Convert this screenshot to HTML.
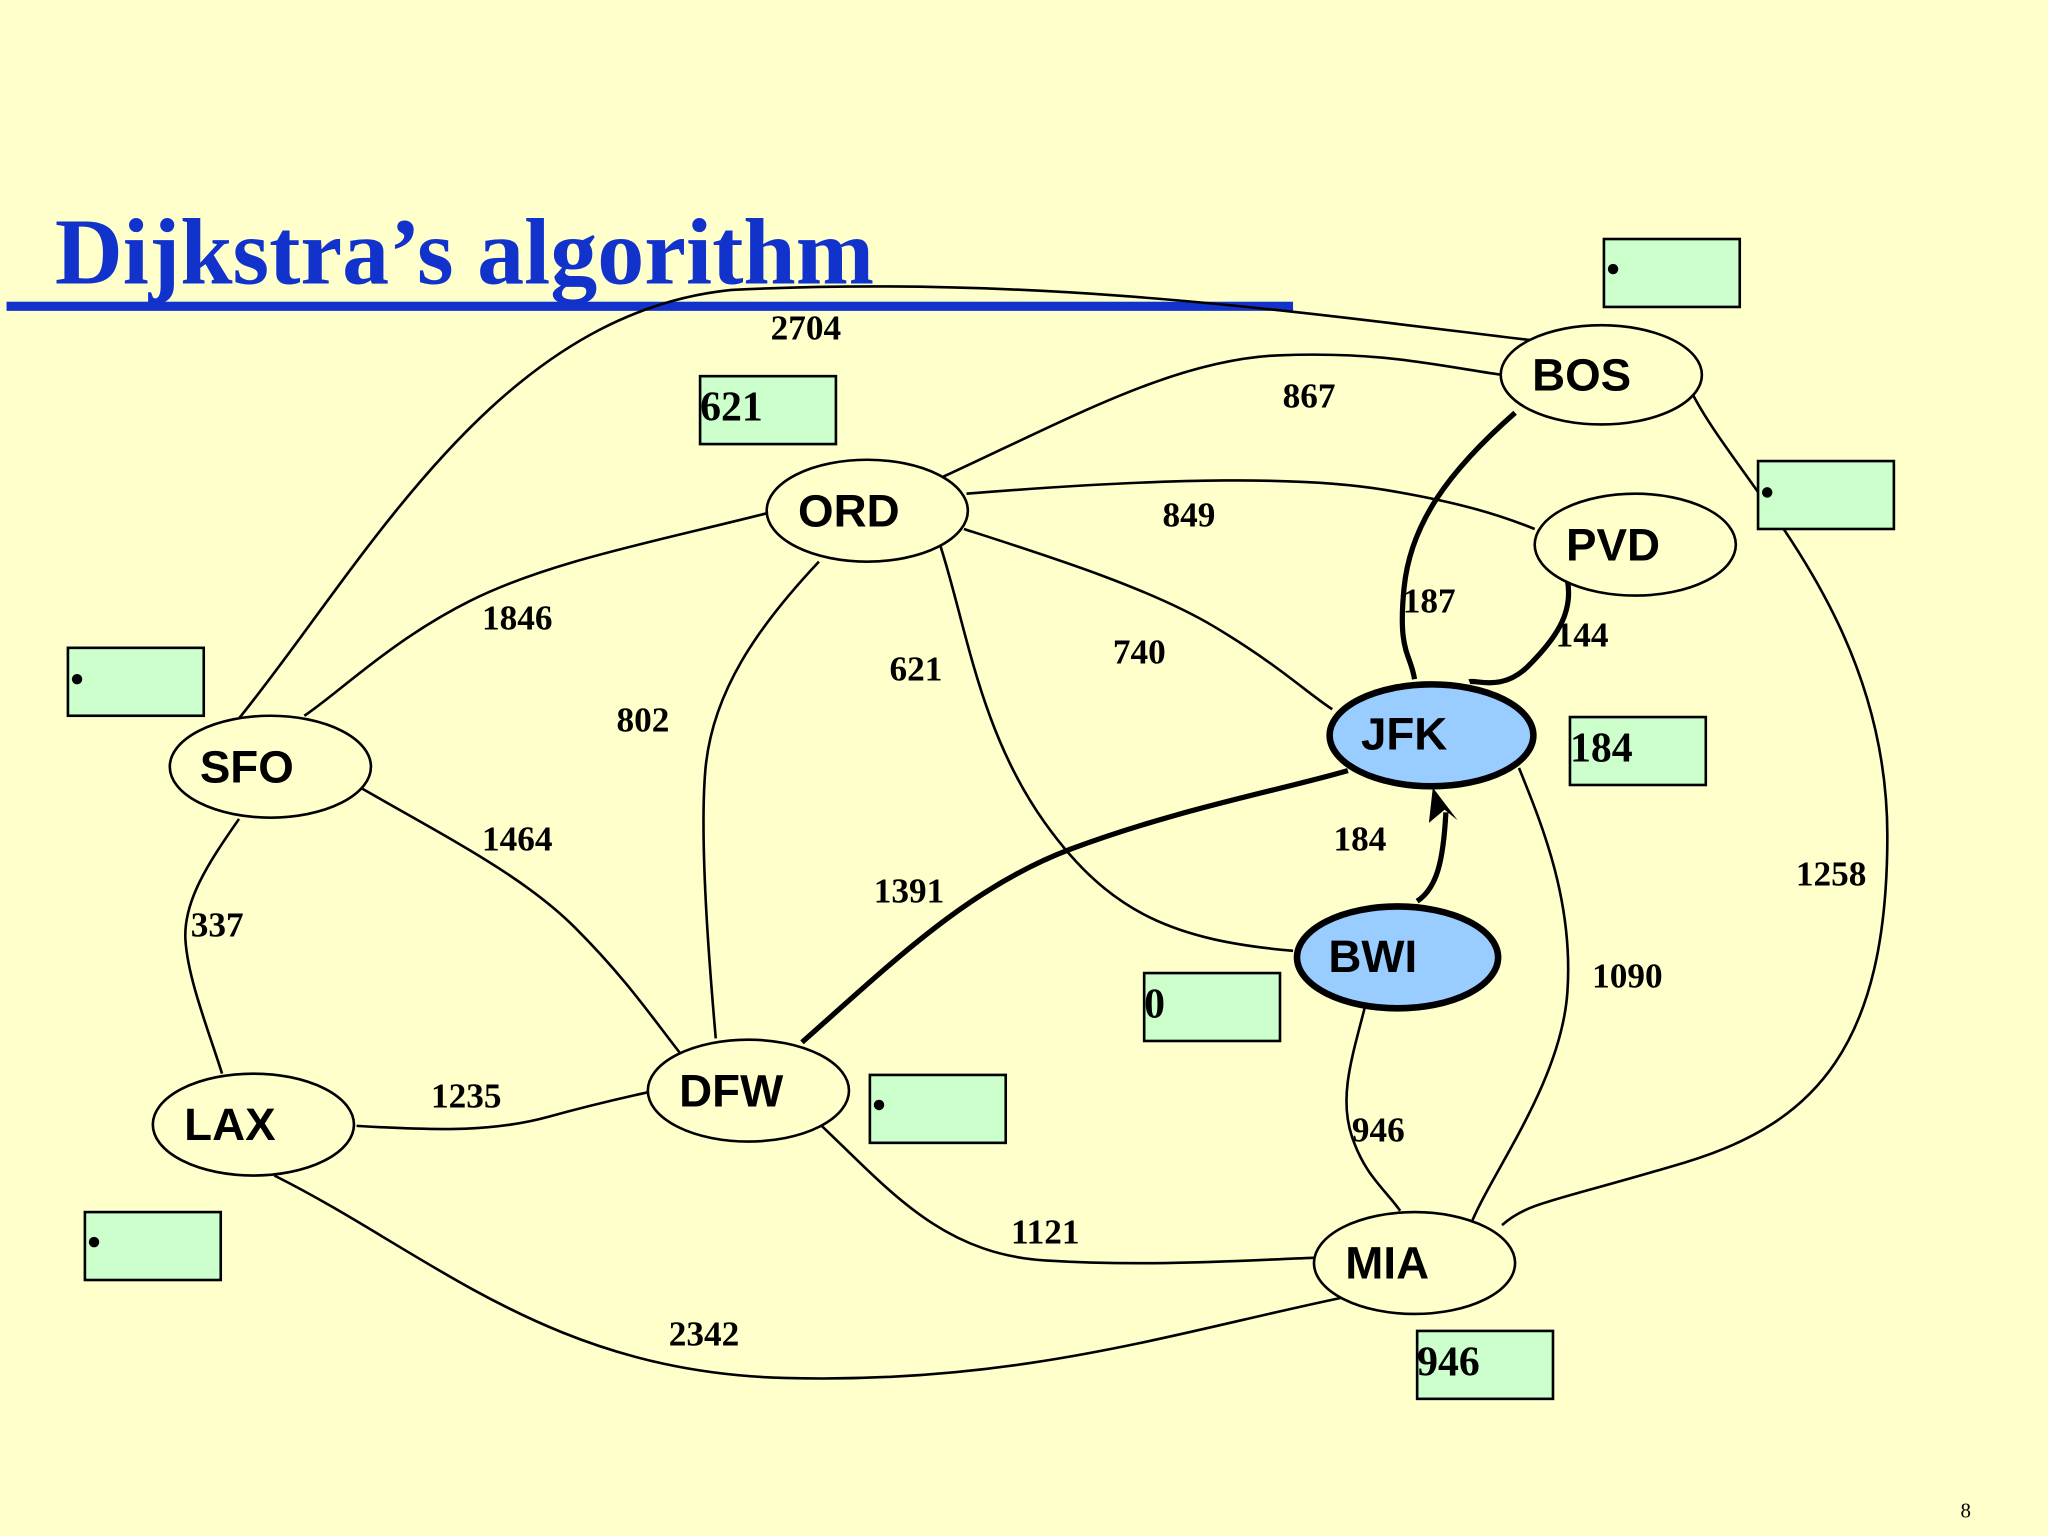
<!DOCTYPE html>
<html><head><meta charset="utf-8"><style>
html,body{margin:0;padding:0;background:#FFFFCC;}
svg{display:block;}
.n{font-family:"Liberation Sans",sans-serif;font-weight:bold;font-size:35px;fill:#000;}
.l{font-family:"Liberation Serif",serif;font-weight:bold;font-size:27px;fill:#000;}
.b{font-family:"Liberation Serif",serif;font-weight:bold;font-size:32px;fill:#000;}
</style></head><body>
<svg width="2048" height="1536" viewBox="0 0 1568 1176" xmlns="http://www.w3.org/2000/svg">
<rect width="1568" height="1176" fill="#FFFFCC"/>
<text x="42" y="217" font-family="Liberation Serif,serif" font-weight="bold" font-size="72" fill="#1133CC">Dijkstra’s algorithm</text>
<rect x="5" y="231" width="985" height="7" fill="#1133CC"/>
<g fill="none" stroke="#000" stroke-width="2">
<path d="M183 550 C280 430,380 240,560 222 C800 210,1000 240,1185 262"/>
<path d="M720 366 C820 320,900 275,980 272 S1100 280,1150 287"/>
<path d="M740 378 C900 365,1000 365,1060 375 S1150 395,1175 405"/>
<path d="M738 405 C800 425,880 450,930 480 S1000 530,1020 543"/>
<path d="M720 418 C740 480,750 560,800 630 S900 720,990 728"/>
<path d="M627 430 C580 480,545 530,540 590 S545 760,548 795"/>
<path d="M587 393 C500 415,420 430,360 460 S260 530,233 548"/>
<path d="M276 603 C340 640,400 670,440 710 S500 780,522 808"/>
<path d="M183 627 C160 660,140 690,142 720 S160 790,170 822"/>
<path d="M273 862 C340 866,380 866,420 855 S480 840,497 836"/>
<path d="M210 900 C330 960,420 1050,600 1055 S900 1020,1030 993"/>
<path d="M627 860 C680 910,720 960,800 965 S950 965,1006 963"/>
<path d="M1045 771 C1035 810,1025 840,1035 870 S1060 910,1072 927"/>
<path d="M1163 588 C1180 630,1205 690,1200 760 S1140 900,1125 940"/>
<path d="M1295 300 C1330 370,1445 470,1445 640 C1445 800,1390 860,1290 890 S1170 920,1150 938"/>
</g>
<g fill="none" stroke="#000" stroke-width="4">
<path d="M614 798 C680 740,740 680,820 650 S980 605,1032 590"/>
<path d="M1160 316 C1110 360,1080 400,1075 450 S1080 500,1083 520"/>
<path d="M1200 444 C1205 470,1190 490,1170 510 S1130 520,1125 522"/>
<path d="M1085 690 C1100 680,1105 660,1107 622"/>
</g>
<path d="M1097 603 L1094 630 L1106 620 L1116 628 Z" fill="#000"/>
<g fill="#FFFFCC" stroke="#000" stroke-width="2">
<ellipse cx="1226" cy="287" rx="77" ry="38"/>
<ellipse cx="664" cy="391" rx="77" ry="39"/>
<ellipse cx="1252" cy="417" rx="77" ry="39"/>
<ellipse cx="207" cy="587" rx="77" ry="39"/>
<ellipse cx="194" cy="861" rx="77" ry="39"/>
<ellipse cx="573" cy="835" rx="77" ry="39"/>
<ellipse cx="1083" cy="967" rx="77" ry="39"/>
</g>
<g fill="#99CCFF" stroke="#000" stroke-width="5">
<ellipse cx="1096" cy="563" rx="78" ry="39"/>
<ellipse cx="1070" cy="733" rx="77" ry="39"/>
</g>
<text class="n" x="1173" y="299">BOS</text>
<text class="n" x="611" y="403">ORD</text>
<text class="n" x="1199" y="429">PVD</text>
<text class="n" x="1042" y="574">JFK</text>
<text class="n" x="153" y="599">SFO</text>
<text class="n" x="1017" y="744">BWI</text>
<text class="n" x="141" y="873">LAX</text>
<text class="n" x="520" y="847">DFW</text>
<text class="n" x="1030" y="979">MIA</text>
<g fill="#CCFFCC" stroke="#000" stroke-width="2">
<rect x="1228" y="183" width="104" height="52"/>
<rect x="536" y="288" width="104" height="52"/>
<rect x="1346" y="353" width="104" height="52"/>
<rect x="52" y="496" width="104" height="52"/>
<rect x="1202" y="549" width="104" height="52"/>
<rect x="876" y="745" width="104" height="52"/>
<rect x="666" y="823" width="104" height="52"/>
<rect x="65" y="928" width="104" height="52"/>
<rect x="1085" y="1019" width="104" height="52"/>
</g>
<g fill="#000">
<circle cx="1235" cy="206" r="4"/>
<circle cx="1353" cy="377" r="4"/>
<circle cx="59" cy="520" r="4"/>
<circle cx="673" cy="846" r="4"/>
<circle cx="72" cy="951" r="4"/>
</g>
<text class="b" x="536" y="322">621</text>
<text class="b" x="1202" y="583">184</text>
<text class="b" x="876" y="779">0</text>
<text class="b" x="1085" y="1053">946</text>
<text class="l" x="590" y="260">2704</text>
<text class="l" x="982" y="312">867</text>
<text class="l" x="890" y="403">849</text>
<text class="l" x="852" y="508">740</text>
<text class="l" x="681" y="521">621</text>
<text class="l" x="472" y="560">802</text>
<text class="l" x="369" y="482">1846</text>
<text class="l" x="369" y="651">1464</text>
<text class="l" x="146" y="717">337</text>
<text class="l" x="330" y="848">1235</text>
<text class="l" x="512" y="1030">2342</text>
<text class="l" x="774" y="952">1121</text>
<text class="l" x="669" y="691">1391</text>
<text class="l" x="1035" y="874">946</text>
<text class="l" x="1219" y="756">1090</text>
<text class="l" x="1375" y="678">1258</text>
<text class="l" x="1074" y="469">187</text>
<text class="l" x="1191" y="495">144</text>
<text class="l" x="1021" y="651">184</text>
<text x="1501" y="1162" font-family="Liberation Serif,serif" font-size="16" fill="#000">8</text>
</svg>
</body></html>
